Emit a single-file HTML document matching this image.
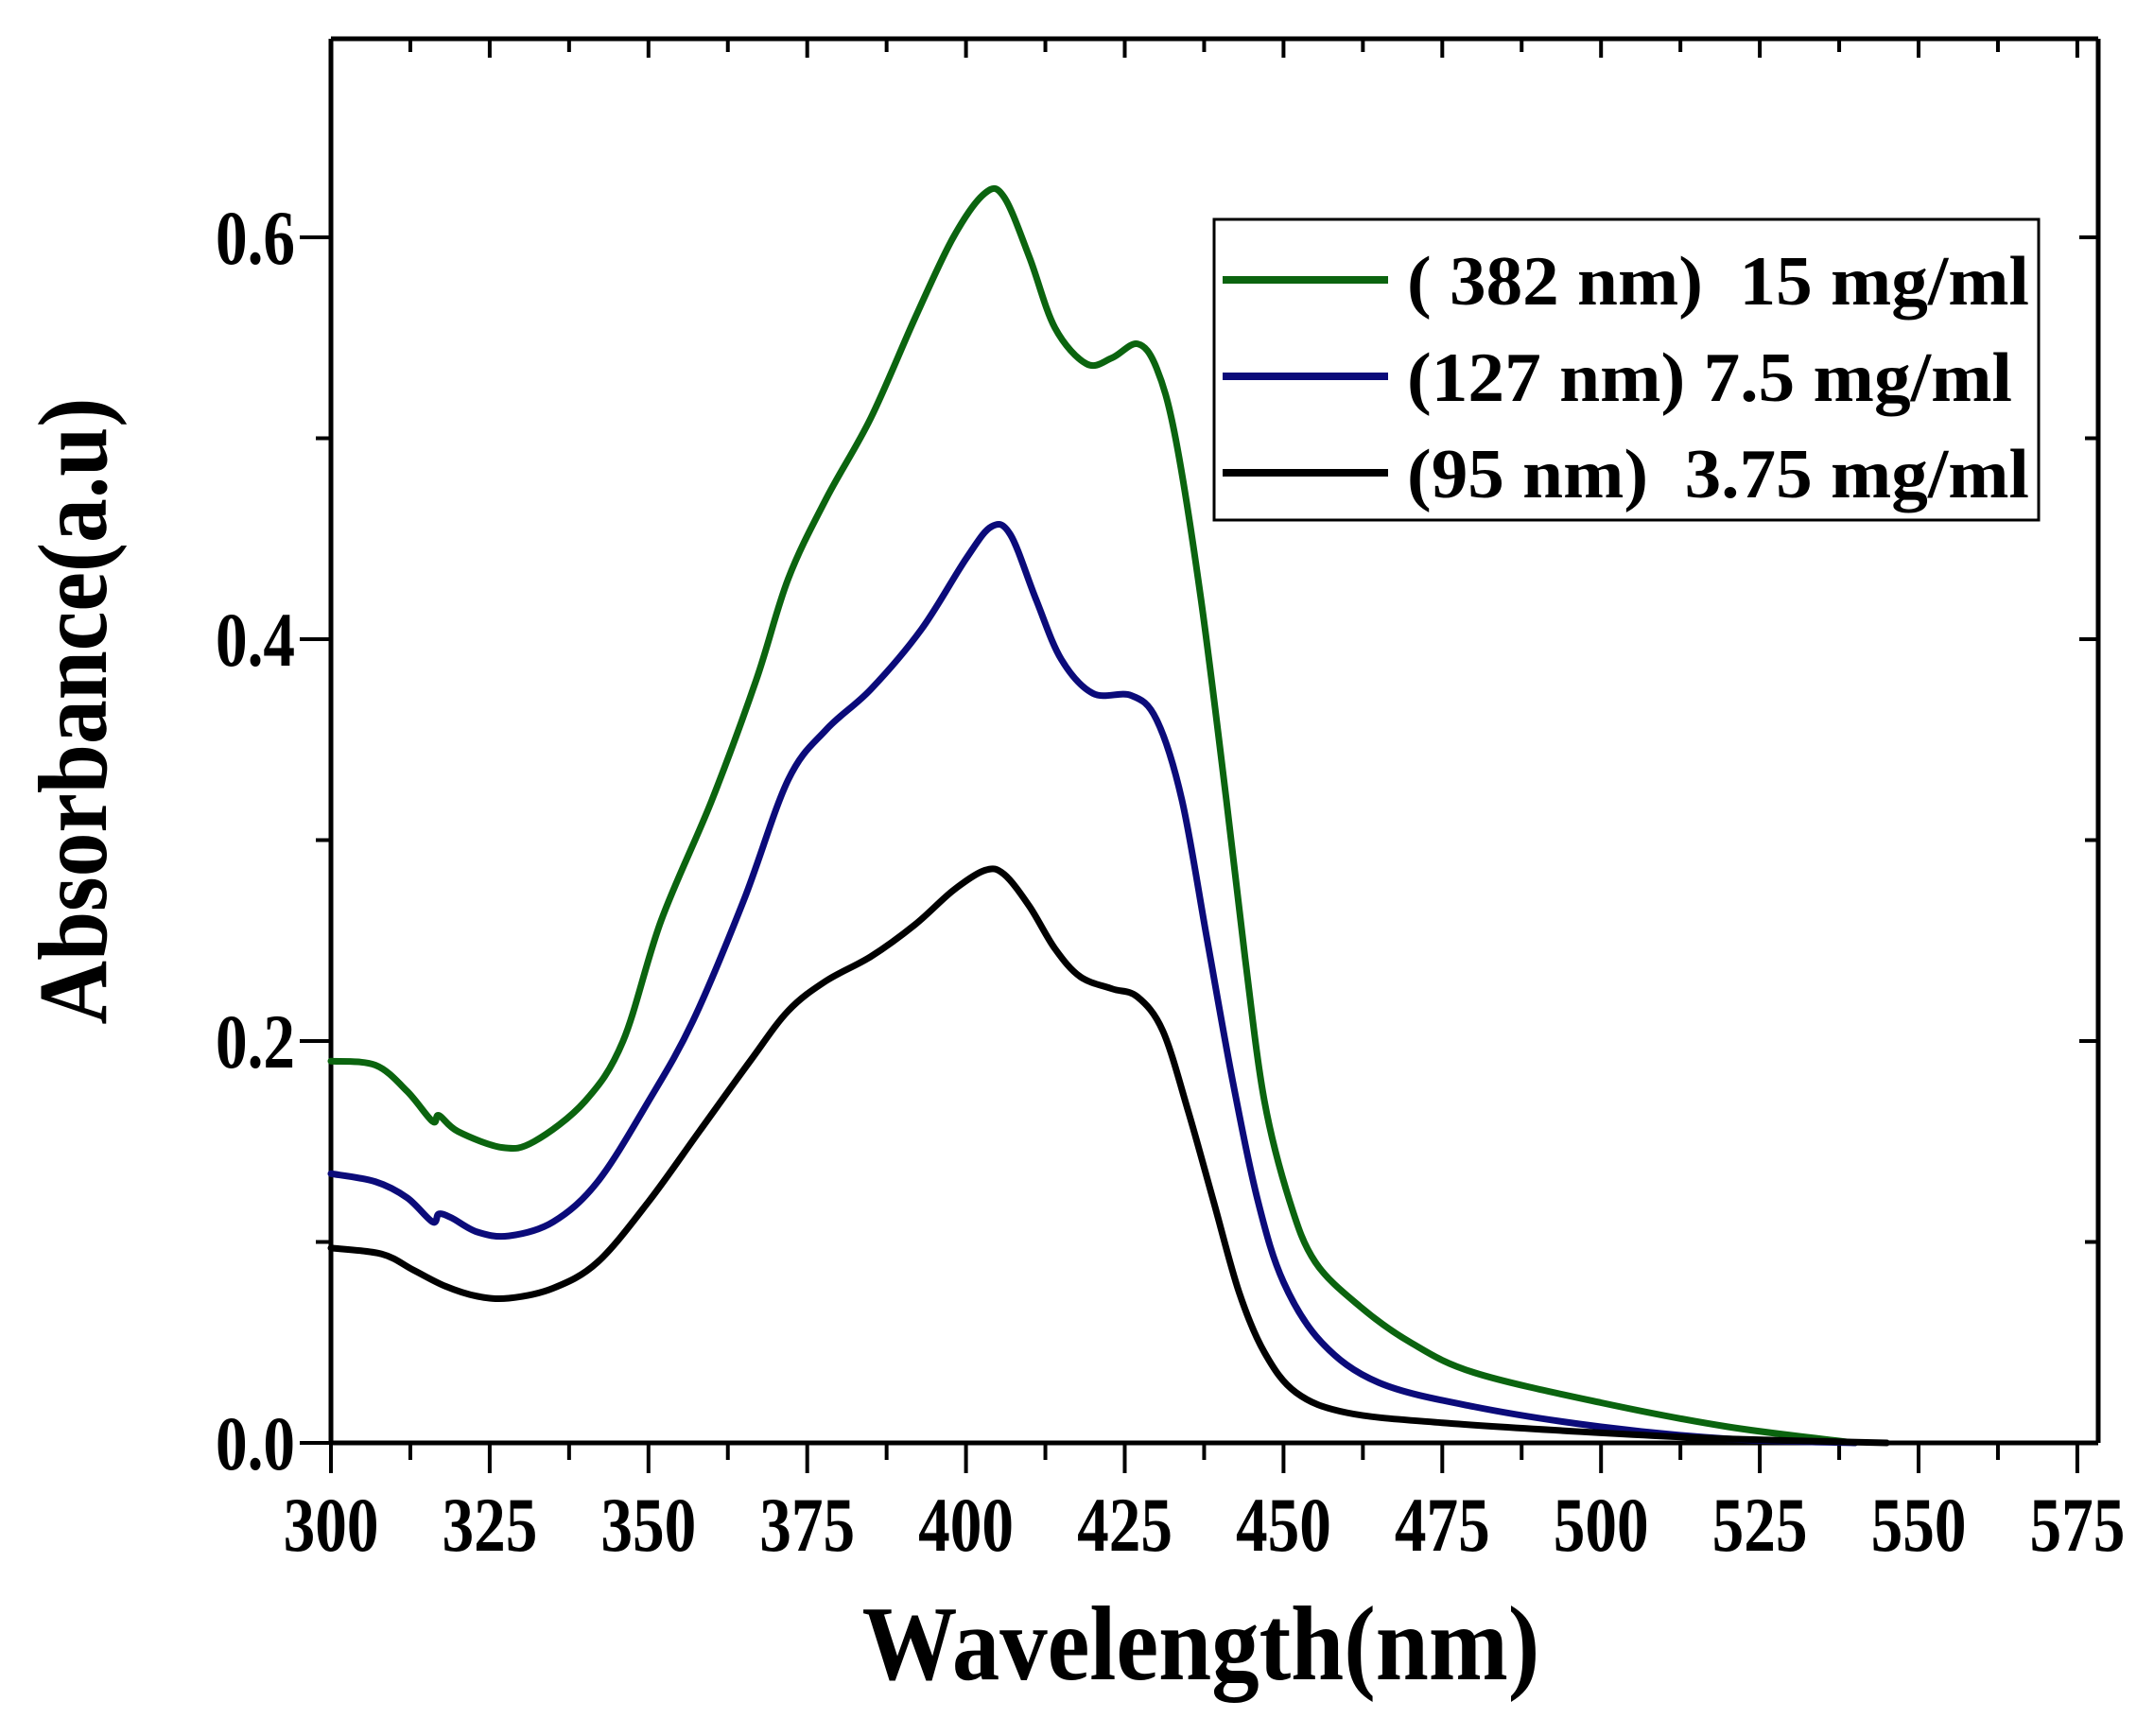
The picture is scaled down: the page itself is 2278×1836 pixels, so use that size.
<!DOCTYPE html>
<html><head><meta charset="utf-8"><style>html,body{margin:0;padding:0;background:#fff}svg{display:block}text{white-space:pre}</style></head>
<body>
<svg id="s" width="2278" height="1836" viewBox="0 0 2278 1836" xmlns="http://www.w3.org/2000/svg" font-family="Liberation Serif, serif" font-weight="bold">
<rect width="2278" height="1836" fill="#fff"/>
<g id="ax" stroke="#000" stroke-width="5" fill="none"></g>
<g id="tl" font-size="82" fill="#000"></g>
<g id="curves" fill="none" stroke-width="7" stroke-linejoin="round" stroke-linecap="round"></g>
<rect x="1284" y="232" width="872" height="318" fill="none" stroke="#000" stroke-width="3"/>
<line x1="1293" y1="296" x2="1468" y2="296" stroke="#0b640f" stroke-width="8"/>
<line x1="1293" y1="398" x2="1468" y2="398" stroke="#0b0b7a" stroke-width="8"/>
<line x1="1293" y1="500" x2="1468" y2="500" stroke="#000" stroke-width="8"/>
<g font-size="74" fill="#000">
<text x="1488" y="322" textLength="658" lengthAdjust="spacingAndGlyphs">( 382 nm)  15 mg/ml</text>
<text x="1488" y="424" textLength="640" lengthAdjust="spacingAndGlyphs">(127 nm) 7.5 mg/ml</text>
<text x="1488" y="526" textLength="658" lengthAdjust="spacingAndGlyphs">(95 nm)  3.75 mg/ml</text>
</g>
<text transform="translate(1270,1776) scale(0.9,1)" text-anchor="middle" font-size="112" fill="#000">Wavelength(nm)</text>
<text transform="translate(112,752) rotate(-90) scale(0.9,1)" text-anchor="middle" font-size="104" fill="#000">Absorbance(a.u)</text>
</svg>
<script>
var NS="http://www.w3.org/2000/svg";
function X(w){return 350+(w-300)*6.716;}
function Y(a){return 1526-a*2125;}
var ax=document.getElementById('ax'),tl=document.getElementById('tl');
function L(x1,y1,x2,y2,w){var l=document.createElementNS(NS,'line');l.setAttribute('x1',x1);l.setAttribute('y1',y1);l.setAttribute('x2',x2);l.setAttribute('y2',y2);if(w)l.setAttribute('stroke-width',w);ax.appendChild(l);}
function T(x,y,s,anch){var t=document.createElementNS(NS,'text');t.setAttribute('transform','translate('+x+','+y+') scale(0.82,1)');t.setAttribute('text-anchor',anch);t.textContent=s;tl.appendChild(t);}
var R=2219,Tp=41,B=1526,Lf=350;
L(Lf,Tp,R,Tp);L(Lf,B,R,B);L(Lf,Tp,Lf,B);L(R,Tp,R,B);
for(var w=300;w<=575;w+=12.5){var x=X(w);var maj=(w%25===0);
 L(x,B,x,B+(maj?32:18),4);L(x,Tp,x,Tp+(maj?20:14),4);
 if(maj)T(x,1640,String(w),'middle');}
for(var i=0;i<=6;i++){var a=i/10;var y=Y(a);var maj=i%2===0;
 L(Lf,y,Lf-(maj?33:16),y,4);L(R,y,R-(maj?20:14),y,4);
 if(maj)T(312,y+28,a.toFixed(1),'end');}
var data={
"#0b640f":[[300,.19],[307,.188],[312,.175],[316,.16],[317,.163],[320,.155],[327,.147],[332,.15],[340,.17],[346,.2],[352,.26],[360,.32],[367,.38],[372,.43],[378,.47],[385,.51],[392,.56],[398,.6],[403,.622],[406,.62],[410,.59],[414,.555],[419,.537],[423,.54],[427,.547],[430,.535],[433,.5],[437,.42],[441,.32],[444,.24],[447,.17],[451,.12],[455,.09],[462,.068],[470,.05],[480,.035],[500,.02],[520,.008],[540,0]],
"#0b0b7a":[[300,.134],[307,.13],[312,.122],[316,.11],[317,.114],[319,.112],[323,.105],[328,.103],[335,.11],[342,.13],[350,.17],[357,.21],[365,.27],[372,.33],[378,.355],[385,.375],[393,.405],[400,.44],[404,.456],[407,.452],[411,.42],[415,.39],[420,.373],[426,.372],[430,.36],[434,.32],[438,.25],[442,.18],[446,.12],[450,.08],[456,.05],[465,.03],[480,.018],[500,.008],[520,.002],[540,0]],
"#000":[[300,.097],[308,.094],[313,.086],[318,.078],[323,.073],[328,.072],[335,.077],[342,.09],[350,.12],[358,.155],[366,.19],[372,.215],[378,.23],[385,.242],[392,.258],[398,.275],[403,.285],[406,.283],[410,.267],[414,.246],[418,.232],[423,.226],[427,.222],[431,.205],[435,.165],[439,.12],[443,.075],[447,.045],[452,.025],[460,.015],[475,.01],[500,.005],[520,.002],[545,0]]};
var cg=document.getElementById('curves');
["#0b640f","#0b0b7a","#000"].forEach(function(c){var p=data[c].map(function(d){return [X(d[0]),Y(d[1])];});
 var s="M"+p[0][0]+","+p[0][1];
 for(var i=0;i<p.length-1;i++){var p0=p[Math.max(0,i-1)],p1=p[i],p2=p[i+1],p3=p[Math.min(p.length-1,i+2)];
  s+=" C"+(p1[0]+(p2[0]-p0[0])/6)+","+(p1[1]+(p2[1]-p0[1])/6)+" "+(p2[0]-(p3[0]-p1[0])/6)+","+(p2[1]-(p3[1]-p1[1])/6)+" "+p2[0]+","+p2[1];}
 var e=document.createElementNS(NS,'path');e.setAttribute('d',s);e.setAttribute('stroke',c);cg.appendChild(e);});
</script>
</body></html>
